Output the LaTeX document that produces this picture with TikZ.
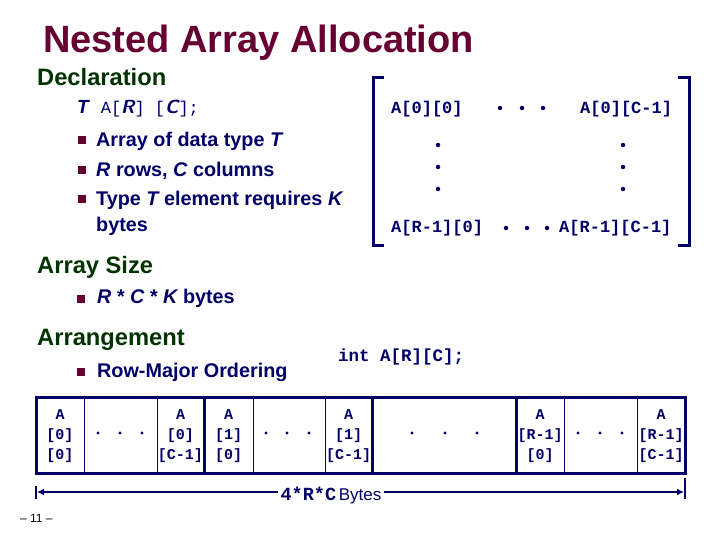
\documentclass[tikz,border=0pt]{standalone}
\usepackage{fontspec}
\setmainfont{Liberation Sans}
\setmonofont{Liberation Mono}
\usetikzlibrary{arrows.meta}
\definecolor{navy}{RGB}{0,0,102}
\definecolor{maroon}{RGB}{102,0,51}
\definecolor{dgreen}{RGB}{0,51,0}
\begin{document}
\begin{tikzpicture}[x=1pt,y=-1pt,
  txt/.style={anchor=base west, inner sep=0, text=navy, font=\fontsize{19.8}{22}\selectfont\bfseries},
  head/.style={anchor=base west, inner sep=0, text=dgreen, font=\fontsize{23.7}{26}\selectfont\bfseries},
  bul/.style={fill=maroon, minimum size=8pt, inner sep=0},
  mono/.style={anchor=base west, inner sep=0, text=navy, font=\fontsize{17}{20}\selectfont\ttfamily\bfseries},
  celltxt/.style={align=center, inner sep=0, text=navy, font=\fontsize{15}{20}\selectfont\ttfamily\bfseries},
  mdot/.style={circle, fill=navy, minimum size=4.5pt, inner sep=0},
  cdot/.style={circle, fill=navy, minimum size=3.2pt, inner sep=0},
  thickln/.style={draw=navy, line width=3pt},
  thinln/.style={draw=navy, line width=1pt}
]
\useasboundingbox (0,0) rectangle (720,540);
% title
\node[anchor=base west, inner sep=0, text=maroon, font=\fontsize{38}{40}\selectfont\bfseries] (title) at (43,53) {Nested Array Allocation};
% declaration
\node[head] (decl) at (37,86) {Declaration};
\node[txt, font=\fontsize{19}{22}\selectfont\bfseries] (declcode) at (77,114) {\itshape T\upshape\hspace{12pt}\fontsize{17}{20}\selectfont\ttfamily\mdseries A[\fontsize{19}{22}\selectfont\sffamily\bfseries\itshape R\upshape\fontsize{17}{20}\selectfont\ttfamily\mdseries] [\fontsize{19}{22}\selectfont\sffamily\bfseries\itshape C\upshape\fontsize{17}{20}\selectfont\ttfamily\mdseries];};
\node[bul] (b1) at (82,140) {};
\node[txt] (t1) at (96,147) {Array of data type \itshape T};
\node[bul] (b2) at (82,170) {};
\node[txt] (t2) at (96,177) {\itshape R\upshape\ rows, \itshape C\upshape\ columns};
\node[bul] (b3) at (82,199) {};
\node[txt] (t3) at (96,206) {Type \itshape T\upshape\ element requires \itshape K};
\node[txt] (t3b) at (96,231) {bytes};
% matrix
\draw[thickln] (384,78) -- (373,78) -- (373,245) -- (384,245);
\draw[thickln] (678,78) -- (689,78) -- (689,245) -- (678,245);
\node[mono] (m00) at (391,114) {A[0][0]};
\node[mono] (m0c) at (580,114) {A[0][C-1]};
\node[mono] (mr0) at (391,233) {A[R-1][0]};
\node[mono] (mrc) at (559,233) {A[R-1][C-1]};
\node[mdot] (h1) at (500,108) {};
\node[mdot] (h2) at (522,108) {};
\node[mdot] (h3) at (543,108) {};
\node[mdot] (g1) at (506,228) {};
\node[mdot] (g2) at (527,228) {};
\node[mdot] (g3) at (547,228) {};
\node[mdot] (v1) at (438,145) {};
\node[mdot] (v2) at (438,167) {};
\node[mdot] (v3) at (438,189) {};
\node[mdot] (w1) at (623,145) {};
\node[mdot] (w2) at (623,167) {};
\node[mdot] (w3) at (623,189) {};
% array size
\node[head] (asz) at (37,273) {Array Size};
\node[bul] (b4) at (81,299) {};
\node[txt] (t4) at (97,303) {\itshape R\upshape\ * \itshape C\upshape\ * \itshape K\upshape\ bytes};
% arrangement
\node[head] (arr) at (37,345) {Arrangement};
\node[bul] (b5) at (81,372) {};
\node[txt] (t5) at (97,377) {Row-Major Ordering};
\node[mono, font=\fontsize{17.5}{20}\selectfont\ttfamily\bfseries] (intdecl) at (338,361) {int A[R][C];};
% memory row
\draw[thinln] (84,397) -- (84,473);
\draw[thinln] (157,397) -- (157,473);
\draw[thinln] (253,397) -- (253,473);
\draw[thinln] (325,397) -- (325,473);
\draw[thinln] (564,397) -- (564,473);
\draw[thinln] (637,397) -- (637,473);
\draw[thickln] (204,397) -- (204,473);
\draw[thickln] (372,397) -- (372,473);
\draw[thickln] (516,397) -- (516,473);
\draw[thickln] (36,397) rectangle (685,473);
\node[celltxt] (c1) at (60,436) {A\\{[0]}\\{[0]}};
\node[celltxt] (c3) at (180.5,436) {A\\{[0]}\\{[C-1]}};
\node[celltxt] (c4) at (228.5,436) {A\\{[1]}\\{[0]}};
\node[celltxt] (c6) at (348.5,436) {A\\{[1]}\\{[C-1]}};
\node[celltxt] (c8) at (540,436) {A\\{[R-1]}\\{[0]}};
\node[celltxt] (c10) at (661,436) {A\\{[R-1]}\\{[C-1]}};
\foreach \x [count=\i] in {98,120,142, 266,287,309, 412,445,477, 578,600,622}
  \node[cdot] (cd\i) at (\x,433) {};
% size arrow
\node[anchor=base, inner sep=2pt, text=navy] (lab) at (331,500) {{\fontsize{18.5}{20}\selectfont\ttfamily\bfseries 4*R*C} {\fontsize{17}{20}\selectfont Bytes}};
\coordinate (la) at (37,492);
\coordinate (ra) at (684,492);
\draw[navy, line width=2.5pt] (36,486) -- (36,499);
\draw[navy, line width=2.5pt] (685,478) -- (685,499);
\draw[navy, line width=2.5pt, -{Latex[length=7pt,width=7pt]}] (lab.west |- la) -- (la);
\draw[navy, line width=2.5pt, -{Latex[length=7pt,width=7pt]}] (lab.east |- ra) -- (ra);
% page number
\node[anchor=base west, inner sep=0, font=\fontsize{12}{14}\selectfont] (pg) at (20,522) {– 11 –};
\end{tikzpicture}
\end{document}
